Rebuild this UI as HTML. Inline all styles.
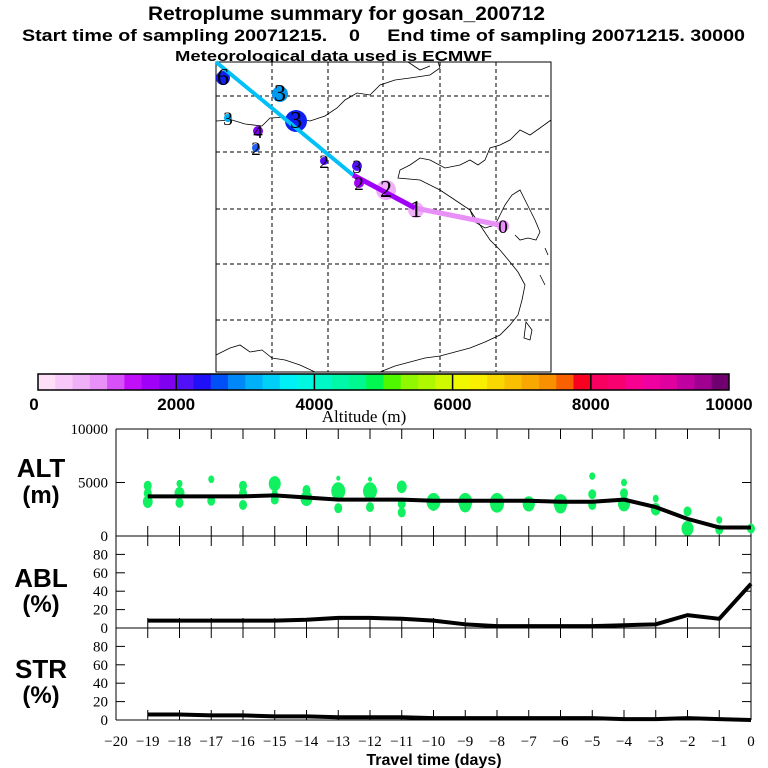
<!DOCTYPE html>
<html><head><meta charset="utf-8">
<style>
html,body{margin:0;padding:0;background:#fff;width:768px;height:768px;overflow:hidden}
svg{display:block}
.b{font-family:"Liberation Sans",sans-serif;font-weight:bold}
.s{font-family:"Liberation Serif",serif}
</style></head>
<body>
<svg id="c" width="768" height="768" xmlns="http://www.w3.org/2000/svg">
<text class="b" x="148" y="20" font-size="19" textLength="397" lengthAdjust="spacingAndGlyphs">Retroplume summary for gosan_200712</text>
<text class="b" x="22" y="41" font-size="17" textLength="723" lengthAdjust="spacingAndGlyphs" xml:space="preserve">Start time of sampling 20071215.    0     End time of sampling 20071215. 30000</text>
<text class="b" x="175" y="61" font-size="15" textLength="317" lengthAdjust="spacingAndGlyphs">Meteorological data used is ECMWF</text>
<g id="map">
<rect x="216" y="62" width="335" height="310" fill="#fff" stroke="#000" stroke-width="1"/>
<g stroke="#000" stroke-dasharray="4,3" stroke-width="1">
<line x1="272" y1="62" x2="272" y2="372"/><line x1="328" y1="62" x2="328" y2="372"/><line x1="383" y1="62" x2="383" y2="372"/><line x1="440" y1="62" x2="440" y2="372"/><line x1="496" y1="62" x2="496" y2="372"/>
<line x1="216" y1="96" x2="551" y2="96"/><line x1="216" y1="152" x2="551" y2="152"/><line x1="216" y1="209" x2="551" y2="209"/><line x1="216" y1="264" x2="551" y2="264"/><line x1="216" y1="320" x2="551" y2="320"/>
</g>
<g fill="none" stroke="#000" stroke-width="0.8">
<path d="M216,121 L232,120 L245,124 L262,126 L270,118 L290,117 L310,121 L325,116 L337,108 L345,100 L357,93 L370,95 L380,85 L395,80 L410,78 L430,75 L440,68 L438,62"/>
<path d="M408,62 L420,70 L430,66"/>
<path d="M551,120 L540,128 L530,135 L520,130 L510,140 L500,145 L490,148 L485,160 L478,165 L470,160 L460,165 L445,168 L430,160 L420,158 L410,165 L400,170 L398,178 L420,180 L440,190 L455,200 L470,210 L475,222 L485,228 L495,225 L500,215 L505,205 L512,195 L520,190 L525,200 L530,210 L535,220 L540,232 L536,240 L528,238 L520,240 L515,235"/>
<path d="M470,210 L480,225 L490,240 L500,250 L510,262 L518,272 L525,285 L522,300 L518,315 L510,325 L500,335 L485,342 L470,348 L455,352 L440,356 L425,358 L410,362 L395,366 L380,372"/>
<path d="M526,322 L532,330 L530,340 L524,338 Z"/>
<path d="M216,355 L230,348 L240,345 L250,352 L262,350 L272,358 L285,360 L300,365 L315,372"/>
<path d="M540,275 L545,285"/><path d="M545,248 L548,255"/>
</g>
<g id="traj"></g>
</g>
<g id="cbar"></g>
<text class="s" x="364" y="422" font-size="17" text-anchor="middle">Altitude (m)</text>
<g id="panels"></g>
<text class="b" x="434" y="765" font-size="16" text-anchor="middle">Travel time (days)</text>
</svg>
<script>
var NS="http://www.w3.org/2000/svg";
function mk(p,t,a){var e=document.createElementNS(NS,t);for(var k in a)e.setAttribute(k,a[k]);p.appendChild(e);return e;}
var svg=document.getElementById('c');

// ---------- colorbar ----------
var cbColors=["#fde0f8","#f8c8f8","#f0b0f8","#e890f8","#d850f8","#c010f8","#a000f8","#8000f0",
"#5010f8","#2010f8","#0050f8","#0088f8","#00b0f8","#00d0f8","#00f0f8","#00f8e0",
"#00f8c8","#00f8a8","#00f890","#00f850","#50f800","#90f800","#b0f800","#d0f800",
"#f0f800","#f8f000","#f8d800","#f8c000","#f8a800","#f89000","#f86000","#f80020",
"#f80060","#f80070","#f80090","#f000a0","#e000a0","#c000a0","#a00090","#700070"];
var cbTicks=[0,2000,4000,6000,8000,10000];
var cbg=document.getElementById('cbar');
var cbX0=38,cbX1=729,cbW=(cbX1-cbX0)/cbColors.length;
function cbx(v){return cbX0+(cbX1-cbX0)*v/10000;}
cbColors.forEach(function(col,i){
 var r=mk(cbg,'rect',{x:cbX0+i*cbW,y:374,width:cbW+0.5,height:16,fill:col});
 
 
});
mk(cbg,'rect',{x:cbX0,y:374,width:cbX1-cbX0,height:16,fill:'none',stroke:'#000','stroke-width':1.5});
cbTicks.forEach(function(v){
 if(v>0&&v<10000)mk(cbg,'line',{x1:cbx(v),y1:374,x2:cbx(v),y2:390,stroke:'#000','stroke-width':1.5});
 var t=mk(cbg,'text',{x:cbx(v)-(v==0?4:0),y:410,'font-size':17,'text-anchor':'middle','class':'b'});
 t.textContent=v;
 
 
});

// ---------- map trajectory ----------
var trajX=[216,353,415,505];
var trajY=[62,175,208,226];
var plumeX=[223,280,228,296,258,256,324,357,359,386,416,503];
var plumeY=[78,94,118,121,131,148,161,166,183,190,210,226];
var plumeR=[7,8,4,11,5,4,4,5,5,10,8,6];
var plumeLabel=["6","3","3","3","4","2","2","3","2","2","1","0"];
var plumeCol=["#1020f0","#0098f0","#00b0f8","#1020f0","#8000f0","#2060f0","#5010f8","#5010f8","#a000f8","#f0b0f8","#f0b0f8","#e890f8"];
var tg=document.getElementById('traj');
plumeX.forEach(function(x,i){
 var c=mk(tg,'circle',{cx:x,cy:plumeY[i],r:plumeR[i],fill:plumeCol[i]});
 
 
});
var seg0=mk(tg,'line',{x1:trajX[0],y1:trajY[0],x2:trajX[1],y2:trajY[1],stroke:'#00c0f8','stroke-width':4});


var seg1=mk(tg,'line',{x1:trajX[1],y1:trajY[1],x2:trajX[2],y2:trajY[2],stroke:'#a000f8','stroke-width':5});


var seg2=mk(tg,'line',{x1:trajX[2],y1:trajY[2],x2:trajX[3],y2:trajY[3],stroke:'#e890f8','stroke-width':5});


plumeX.forEach(function(x,i){
 var t=mk(tg,'text',{x:x,y:plumeY[i]+7,'font-size':plumeR[i]>6?24:19,'text-anchor':'middle','class':'s'});
 t.textContent=plumeLabel[i];
 
 
});

// ---------- time-series panels ----------
var days=[-19,-18,-17,-16,-15,-14,-13,-12,-11,-10,-9,-8,-7,-6,-5,-4,-3,-2,-1,0];
var altMean=[3700,3700,3700,3700,3800,3600,3400,3400,3400,3300,3300,3300,3300,3200,3200,3400,2700,1600,800,800];
var ablMean=[8,8,8,8,8,9,11,11,10,8,4,2,2,2,2,3,4,14,10,48];
var strMean=[6,6,5,5,4,4,3,3,3,2,2,2,2,2,2,1,1,2,1,0];
var blobDay=[-19,-19,-19,-18,-18,-18,-17,-17,-16,-16,-16,-15,-15,-15,-14,-14,-13,-13,-13,-12,-12,-12,-11,-11,-11,-10,-10,-9,-9,-8,-8,-7,-7,-6,-6,-5,-5,-5,-4,-4,-4,-3,-3,-2,-2,-1,-1,0];
var blobAlt=[3200,4000,4700,3100,4000,4900,3300,5300,2900,4000,4700,3400,4900,4000,3500,4300,2600,4200,5400,2700,4200,5300,2200,3000,4600,2800,3200,2900,3200,3000,3200,3000,3000,2800,3100,2900,3900,5600,3000,4000,5000,2500,3500,700,2300,600,1500,700];
var blobR=[5,4,4,4,5,3,4,3,4,4,4,4,6,3,6,4,4,7,2,4,7,2,4,4,5,4,7,6,7,7,7,6,6,6,7,4,4,3,6,4,3,5,3,6,4,4,3,4];
var altTicks=[0,5000,10000];
var pctTicks=[0,20,40,60,80];

var X0=116,X1=751;
function xs(d){return X1+(X1-X0)/20*d;}
var pg=document.getElementById('panels');
var panels=[
 {name:'alt',top:429,bot:536,max:10000,ticks:altTicks,lab:['ALT','(m)'],ly:[477,503],vals:altMean},
 {name:'abl',top:536,bot:628,max:100,ticks:pctTicks,lab:['ABL','(%)'],ly:[587,612],vals:ablMean},
 {name:'str',top:628,bot:720,max:100,ticks:pctTicks,lab:['STR','(%)'],ly:[678,703],vals:strMean}
];
function ys(p,v){return p.bot-(p.bot-p.top)*v/p.max;}
panels.forEach(function(p,pi){
 var g=mk(pg,'g',{});
 
 
 mk(g,'line',{x1:X0,y1:p.top,x2:X1,y2:p.top,stroke:'#000','stroke-width':1});
 mk(g,'line',{x1:X0,y1:p.bot,x2:X1,y2:p.bot,stroke:'#000','stroke-width':1});
 mk(g,'line',{x1:X0,y1:p.top,x2:X0,y2:p.bot,stroke:'#000','stroke-width':1});
 mk(g,'line',{x1:X1,y1:p.top,x2:X1,y2:p.bot,stroke:'#000','stroke-width':1});
 days.forEach(function(d){
  var x=xs(d);
  if(pi==0)mk(g,'line',{x1:x,y1:p.top,x2:x,y2:p.top+10,stroke:'#000'});
  mk(g,'line',{x1:x,y1:p.bot-10,x2:x,y2:p.bot+(pi<2?10:0),stroke:'#000'});
 });
 p.ticks.forEach(function(v){
  var y=ys(p,v);
  if(v>0&&v<p.max){mk(g,'line',{x1:X0,y1:y,x2:X0+9,y2:y,stroke:'#000'});mk(g,'line',{x1:X1-9,y1:y,x2:X1,y2:y,stroke:'#000'});}
  var t=mk(g,'text',{x:X0-8,y:y+5,'font-size':15,'text-anchor':'end','class':'s'});
  t.textContent=v;
  
  
 });
 p.lab.forEach(function(s,i){
  var t=mk(g,'text',{x:41,y:p.ly[i],'font-size':i==0?26:24,'text-anchor':'middle','class':'b'});
  t.textContent=s;
  
  
 });
 if(pi==0){
  blobDay.forEach(function(d,i){
   var e=mk(g,'ellipse',{cx:xs(d),cy:ys(p,blobAlt[i]),rx:blobR[i],ry:blobR[i]*1.25,fill:'#10f060'});
   
   
  });
 }
 var pts=days.map(function(d,i){return xs(d)+','+ys(p,p.vals[i]);}).join(' ');
 var l=mk(g,'polyline',{points:pts,fill:'none',stroke:'#000','stroke-width':4,'stroke-linejoin':'round'});
 
 
});
var xt=[-20].concat(days);
xt.forEach(function(d){
 var t=mk(pg,'text',{x:xs(d),y:746,'font-size':15,'text-anchor':'middle','class':'s'});
 t.textContent=(d<0?'\u2212'+(-d):'0');
 
 
});
</script>
</body></html>
